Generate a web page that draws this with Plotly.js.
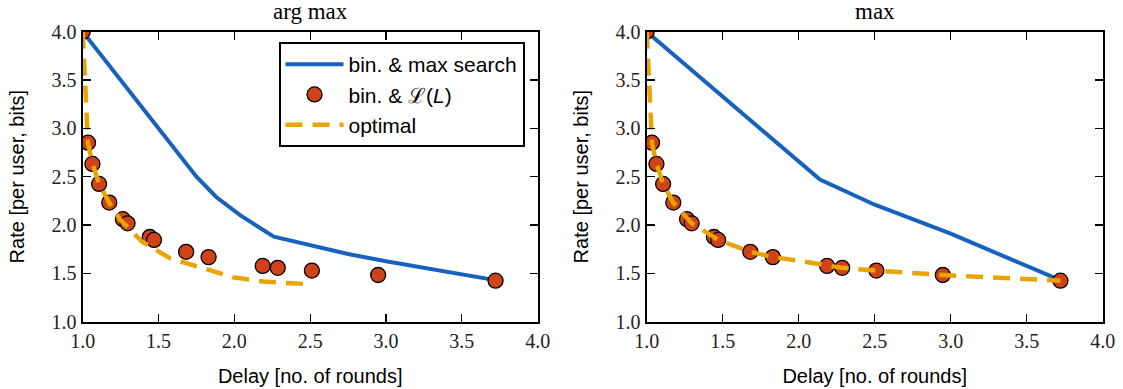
<!DOCTYPE html>
<html>
<head>
<meta charset="utf-8">
<script src="https://cdn.plot.ly/plotly-3.0.1.min.js"></script>
<style>html,body{margin:0;padding:0;background:#fff}#chart{width:1123px;height:389px}</style>
</head>
<body>
<div id="chart"></div>
<script>
// ---- data ----
const panelTitles = ["arg max", "max"];
const xTitle = "Delay [no. of rounds]";
const yTitle = "Rate [per user, bits]";
const tickVals = [1.0, 1.5, 2.0, 2.5, 3.0, 3.5, 4.0];

const seriesNames = ["bin. &amp; max search", "bin. &amp; ℒ(<i>L</i>)", "optimal"];

// bin. & L(L) points (same in both panels)
const lDelay = [1.0, 1.035, 1.064, 1.108, 1.175, 1.265, 1.296, 1.442, 1.47, 1.682, 1.83, 2.187, 2.286, 2.511, 2.948, 3.722];
const lRate  = [4.0, 2.852, 2.632, 2.425, 2.232, 2.061, 2.018, 1.876, 1.846, 1.723, 1.668, 1.577, 1.557, 1.529, 1.483, 1.424];

// bin. & max search
const maxDelayArg = [1.0, 1.75, 1.88, 2.04, 2.26, 2.5, 2.75, 3.0, 3.72];
const maxRateArg  = [4.0, 2.5, 2.29, 2.1, 1.88, 1.79, 1.70, 1.625, 1.43];
const maxDelayMax = [1.0, 2.14, 2.5, 3.0, 3.72];
const maxRateMax  = [4.0, 2.47, 2.21, 1.91, 1.43];

// optimal
const optDelayArg = [1.0, 1.015, 1.025, 1.035, 1.065, 1.11, 1.175, 1.25, 1.39, 1.575, 1.795, 1.99, 2.19, 2.39, 2.466];
const optRateArg  = [4.0, 3.5, 3.1, 2.85, 2.63, 2.42, 2.23, 2.05, 1.83, 1.656, 1.553, 1.46, 1.415, 1.39, 1.39];
const optDelayMax = [1.0, 1.015, 1.025, 1.035, 1.064, 1.108, 1.175, 1.265, 1.296, 1.442, 1.47, 1.682, 1.83, 2.0, 2.187, 2.286, 2.511, 2.948, 3.722];
const optRateMax  = [4.0, 3.5, 3.1, 2.85, 2.632, 2.425, 2.232, 2.061, 2.018, 1.876, 1.846, 1.723, 1.668, 1.63, 1.577, 1.557, 1.529, 1.483, 1.424];

// ---- style ----
const BLUE = "#1762bf", RED = "#d0431a", ORANGE = "#e9a400";
const serif = "Liberation Serif, Times New Roman, serif";
const sans = "Liberation Sans, Arial, sans-serif";

function lineTrace(x, y, xa, ya, show) {
  return {x, y, xaxis: xa, yaxis: ya, type: "scatter", mode: "lines", name: seriesNames[0],
    line: {color: BLUE, width: 4}, showlegend: show, legendrank: 1};
}
function markTrace(x, y, xa, ya, show) {
  return {x, y, xaxis: xa, yaxis: ya, type: "scatter", mode: "markers", name: seriesNames[1],
    marker: {color: RED, size: 15, line: {color: "#000", width: 1.3}}, showlegend: show, legendrank: 2};
}
function optTrace(x, y, xa, ya, show) {
  return {x, y, xaxis: xa, yaxis: ya, type: "scatter", mode: "lines", name: seriesNames[2],
    line: {color: ORANGE, width: 4.5, dash: "17px,10px"}, showlegend: show, legendrank: 3};
}

const traces = [
  lineTrace(maxDelayArg, maxRateArg, "x", "y", true),
  markTrace(lDelay, lRate, "x", "y", true),
  optTrace(optDelayArg, optRateArg, "x", "y", true),
  lineTrace(maxDelayMax, maxRateMax, "x2", "y2", false),
  markTrace(lDelay, lRate, "x2", "y2", false),
  optTrace(optDelayMax, optRateMax, "x2", "y2", false)
];

function xAxis(domain, anchor) {
  return {domain, anchor, range: [1, 4], tickvals: tickVals, tickformat: ".1f",
    ticks: "inside", ticklen: 8, tickwidth: 1.2, tickcolor: "#000",
    showline: true, linecolor: "#000", linewidth: 2.2, mirror: "ticks",
    showgrid: false, zeroline: false, fixedrange: true,
    tickfont: {family: serif, size: 20, color: "#222"},
    title: {text: xTitle, font: {family: sans, size: 20, color: "#000"}, standoff: 18}};
}
function yAxis(domain, anchor) {
  return {domain, anchor, range: [1, 4], tickvals: tickVals, tickformat: ".1f",
    ticks: "inside", ticklen: 8, tickwidth: 1.2, tickcolor: "#000",
    showline: true, linecolor: "#000", linewidth: 2.2, mirror: "ticks",
    showgrid: false, zeroline: false, fixedrange: true,
    tickfont: {family: serif, size: 20, color: "#222"},
    title: {text: yTitle, font: {family: sans, size: 20, color: "#000"}, standoff: 22}};
}

const W = 1123, H = 389;
const xd1 = [82.7 / W, 537.7 / W], xd2 = [646.7 / W, 1102.7 / W];
const yd = [1 - 321.7 / H, 1 - 31.7 / H];

const layout = {
  width: W, height: H,
  margin: {l: 0, r: 0, t: 0, b: 0},
  paper_bgcolor: "#fff", plot_bgcolor: "#fff",
  showlegend: true,
  xaxis: xAxis(xd1, "y"), yaxis: yAxis(yd, "x"),
  xaxis2: xAxis(xd2, "y2"), yaxis2: yAxis(yd, "x2"),
  legend: {x: 278.5 / W, y: 1 - 42 / H, xanchor: "left", yanchor: "top",
    bgcolor: "#fff", bordercolor: "#000", borderwidth: 2,
    font: {family: sans, size: 21, color: "#000"}, traceorder: "normal",
    itemwidth: 58, tracegroupgap: 0},
  annotations: [
    {text: panelTitles[0], xref: "paper", yref: "paper", x: (xd1[0] + xd1[1]) / 2, y: 1 - 12 / H,
     xanchor: "center", yanchor: "middle", showarrow: false, font: {family: serif, size: 23, color: "#000"}},
    {text: panelTitles[1], xref: "paper", yref: "paper", x: (xd2[0] + xd2[1]) / 2, y: 1 - 12 / H,
     xanchor: "center", yanchor: "middle", showarrow: false, font: {family: serif, size: 23, color: "#000"}}
  ]
};

Plotly.newPlot("chart", traces, layout, {displayModeBar: false, staticPlot: true});
</script>
</body>
</html>
